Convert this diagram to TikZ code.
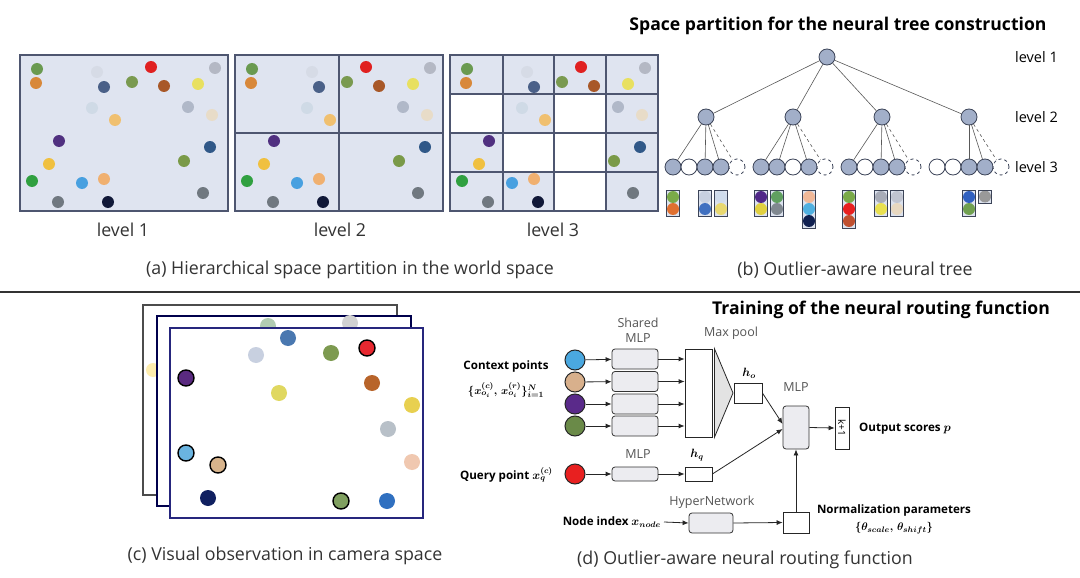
\documentclass[tikz,border=0pt]{standalone}
\usepackage{amsmath}
\usepackage{bm}
\usepackage{fontspec}
\setmainfont{Open Sans}
\setsansfont{Open Sans}
\usetikzlibrary{arrows.meta,calc}
\newcommand\myfs[1]{\fontsize{#1}{#1}\selectfont}
\definecolor{gridfill}{HTML}{DFE4F0}
\definecolor{gridline}{HTML}{4E5670}
\definecolor{treefill}{HTML}{A2AFC9}
\definecolor{treeline}{HTML}{3C4458}
\definecolor{mlpfill}{HTML}{ECECF0}
\definecolor{glab}{HTML}{555555}
\definecolor{capcol}{HTML}{333333}
\definecolor{leaffill}{HTML}{DCE2EE}
\tikzset{
  tn/.style={circle,minimum size=16,inner sep=0,draw=treeline,line width=0.8,fill=treefill},
  tw/.style={tn,fill=white},
  td/.style={tn,fill=white,dashed},
  tedge/.style={draw=black!65,line width=0.6},
  tdash/.style={tedge,dashed},
  captxt/.style={font=\myfs{17.8},text=capcol,inner sep=0},
  lvl/.style={font=\myfs{17.8},text=capcol,inner sep=0},
  tlvl/.style={font=\myfs{14.5},inner sep=0,anchor=west},
  ttl/.style={font=\bfseries\myfs{17.6},inner sep=0},
  cpt/.style={circle,minimum size=20,inner sep=0,draw=black!85,line width=1},
  mlpb/.style={rounded corners=3,draw=black!80,fill=mlpfill,minimum width=46,minimum height=20,inner sep=0,line width=0.8},
  sbox/.style={draw=black!85,fill=white,minimum width=28,minimum height=20,inner sep=0,line width=0.8},
  arr/.style={-{Latex[length=6,width=5]},line width=0.8,draw=black!85},
  glabel/.style={font=\fontsize{12.5}{15}\selectfont,text=glab,inner sep=0},
  blabel/.style={font=\bfseries\myfs{11.6},inner sep=0},
  frm/.style={draw=#1,fill=white,line width=1.6},
  gl/.style={draw=gridline,line width=1.8},
}
\begin{document}
\begin{tikzpicture}[x=1pt,y=-1pt]
\useasboundingbox (0,0) rectangle (1080,578);
\fill[white] (0,0) rectangle (1080,578);
% ---------------- panel (a)
\foreach \ox in {0,215,430}{
  \fill[gridfill] (20+\ox,55) rectangle (228+\ox,211);
}
\fill[white] (450,94) rectangle (503,133);
\fill[white] (554,94) rectangle (606,133);
\fill[white] (503,133) rectangle (606,172);
\fill[white] (554,172) rectangle (606,211);
\foreach \ox in {0,215,430}{
 \foreach \px/\py/\c in {37/69/6A9A50, 36/83/D8883A, 97/72/D6DBE6, 104/87/4A6088, 132/82/7A9A50,
   151/67/E02020, 164/86/A85828, 198/84/E8E060, 215/68/B4B8C4, 188/107/B0B8C8, 92/108/CFDAE6,
   212/115/E8DCC8, 115/120/F0C070, 59/141/503080, 210/147/305888, 184/161/7A9A48, 49/164/F0C040,
   32/181/30A040, 82/183/48A0E0, 104/179/F0B070, 203/193/707880, 58/202/707880, 108/202/101838}{
   \definecolor{tmpc}{HTML}{\c}
   \fill[tmpc] (\px+\ox,\py) circle (6);
 }
}
\draw[gl] (20,55) rectangle (228,211);
\draw[gl] (235,55) rectangle (443,211);
\draw[gl] (339,55) -- (339,211);
\draw[gl] (235,133) -- (443,133);
\draw[gl] (450,55) rectangle (658,211);
\foreach \vx in {503,554,606} \draw[gl] (\vx,55) -- (\vx,211);
\foreach \hy in {94,133,172} \draw[gl] (450,\hy) -- (658,\hy);
\node[lvl] (la1) at (123,230) {level 1};
\node[lvl] (la2) at (340,230) {level 2};
\node[lvl] (la3) at (553,230) {level 3};
\node[captxt] (capa) at (350,270) {(a) Hierarchical space partition in the world space};
% ---------------- panel (b)
\node[ttl] (t1) at (838,26) {Space partition for the neural tree construction};
\node[tn] (r) at (827,57) {};
\node[tn] (a1) at (706,117) {};
\node[tn] (a2) at (793,117) {};
\node[tn] (a3) at (882,117) {};
\node[tn] (a4) at (969,117) {};
\foreach \a in {a1,a2,a3,a4} \draw[tedge] (r) -- (\a);
% level 3
\node[tn] (g11) at (673,167) {};
\node[tw] (g12) at (689,167) {};
\node[tn] (g13) at (705,167) {};
\node[tn] (g14) at (721,167) {};
\node[td] (g15) at (737,167) {};
\node[tn] (g21) at (761,167) {};
\node[tn] (g22) at (777,167) {};
\node[tw] (g23) at (793,167) {};
\node[tn] (g24) at (809,167) {};
\node[td] (g25) at (825,167) {};
\node[tn] (g31) at (849,167) {};
\node[tw] (g32) at (865,167) {};
\node[tn] (g33) at (881,167) {};
\node[tn] (g34) at (897,167) {};
\node[td] (g35) at (913,167) {};
\node[tw] (g41) at (937,167) {};
\node[tw] (g42) at (953,167) {};
\node[tn] (g43) at (969,167) {};
\node[tn] (g44) at (985,167) {};
\node[td] (g45) at (1001,167) {};
\foreach \c in {g11,g13,g14} \draw[tedge] (a1) -- (\c);
\foreach \c in {g21,g22,g24} \draw[tedge] (a2) -- (\c);
\foreach \c in {g31,g33,g34} \draw[tedge] (a3) -- (\c);
\foreach \c in {g43,g44} \draw[tedge] (a4) -- (\c);
\draw[tdash] (a1) -- (g15);
\draw[tdash] (a2) -- (g25);
\draw[tdash] (a3) -- (g35);
\draw[tdash] (a4) -- (g45);
\node[tlvl] (l1) at (1015,57) {level 1};
\node[tlvl] (l2) at (1015,117) {level 2};
\node[tlvl] (l3) at (1015,167) {level 3};
% leaf boxes (two dots)
\foreach \lx/\ca/\cb in {673/7AAA48/E07030, 705/C8D0E0/4070C0, 721/D0DCEC/E8D870,
   761/502888/E0D040, 777/60A060/808890, 881/A8ACB8/E8E050, 897/C0C4D0/E8D8C0, 969/3060C0/70A050}{
  \fill[leaffill] (\lx-6.5,190) rectangle (\lx+6.5,216);
  \definecolor{tca}{HTML}{\ca}\definecolor{tcb}{HTML}{\cb}
  \fill[tca] (\lx,197) circle (6);
  \fill[tcb] (\lx,209) circle (6);
  \draw[treeline,line width=0.8] (\lx-6.5,190) rectangle (\lx+6.5,216);
}
% leaf boxes (three dots)
\foreach \lx/\ca/\cb/\cc in {809/F0B898/50B0E0/102050, 849/7AAA48/E82020/C05030}{
  \fill[leaffill] (\lx-6.5,190) rectangle (\lx+6.5,228);
  \definecolor{tca}{HTML}{\ca}\definecolor{tcb}{HTML}{\cb}\definecolor{tcc}{HTML}{\cc}
  \fill[tca] (\lx,197) circle (6);
  \fill[tcb] (\lx,209) circle (6);
  \fill[tcc] (\lx,221) circle (6);
  \draw[treeline,line width=0.8] (\lx-6.5,190) rectangle (\lx+6.5,228);
}
% single
\fill[leaffill] (978.5,190) rectangle (991.5,203);
\fill[gray!80] (985,196.5) circle (6);
\draw[treeline,line width=0.8] (978.5,190) rectangle (991.5,203);
\node[captxt] (capb) at (855,270) {(b) Outlier-aware neural tree};
% separator
\draw[line width=1.5,black!80] (0,292) -- (1080,292);
% ---------------- panel (c)
\draw[frm=black!70] (143,305) rectangle (397,495);
\fill[yellow!60!orange!30] (153,370) circle (7);
\draw[frm=black!70!blue] (157,316) rectangle (411,506);
\fill[green!20!gray!50] (268,326) circle (8);
\fill[gray!35] (350,323) circle (8);
\draw[frm=blue!40!black!85] (170,328) rectangle (423,518);
\foreach \px/\py/\c in {288/338/4A78B0, 256/355/C8D0E0, 331/353/7D9A50, 279/393/E0D860,
  372/383/B8642A, 412/405/E8D050, 388/429/B8C0C8, 412/462/F0C8B0, 208/498/102060, 387/501/3070C0}{
  \definecolor{tmpc}{HTML}{\c}
  \fill[tmpc] (\px,\py) circle (8);
}
\foreach \px/\py/\c in {367/348/E82830, 186/378/5A2A80, 186/453/6AB4E0, 218/465/D8B48C, 341/501/80A060}{
  \definecolor{tmpc}{HTML}{\c}
  \filldraw[fill=tmpc,draw=black,line width=1.4] (\px,\py) circle (8);
}
\node[captxt] (capc) at (285,556) {(c) Visual observation in camera space};
% ---------------- panel (d)
\node[ttl] (t2) at (881,310) {Training of the neural routing function};
\definecolor{cA}{HTML}{4AA8E0}
\definecolor{cB}{HTML}{D8B08C}
\definecolor{cC}{HTML}{5A2A8A}
\definecolor{cD}{HTML}{6A8A48}
\definecolor{cR}{HTML}{E82020}
\node[cpt,fill=cA] (ci1) at (575,360) {};
\node[cpt,fill=cB] (ci2) at (575,382) {};
\node[cpt,fill=cC] (ci3) at (575,404) {};
\node[cpt,fill=cD] (ci4) at (575,426) {};
\node[mlpb] (m1) at (635,359) {};
\node[mlpb] (m2) at (635,381.5) {};
\node[mlpb] (m3) at (635,404) {};
\node[mlpb] (m4) at (635,426) {};
\node[draw=black!85,fill=white,minimum width=27,minimum height=88,inner sep=0,line width=0.8] (mp) at (698.5,393) {};
\coordinate (tip) at (733,393);
\filldraw[fill=gray!22,draw=black!85,line width=0.8] ($(mp.north east)+(2,0)$) -- (tip) -- ($(mp.south east)+(2,0)$) -- cycle;
\foreach \k in {1,2,3,4}{
  \draw[arr] (ci\k) -- (m\k);
  \draw[arr] (m\k.east) -- (m\k.east -| mp.west);
}
\node[glabel,align=center] (shl) at (638,330) {Shared\\MLP};
\node[glabel] (mpl) at (731,333) {Max pool};
\node[sbox] (ho) at (748,393) {};
\node[inner sep=0,font=\myfs{12}] (holab) at (749,373) {$\bm{h}_{\bm{o}}$};
\node[mlpb,minimum width=26,minimum height=43] (mlp2) at (796,427.5) {};
\node[glabel] (mlp2lab) at (796,387) {MLP};
\node[draw=black!85,fill=white,minimum width=14,minimum height=42,inner sep=0,line width=0.8] (kb) at (842,428) {};
\node[rotate=-90,font=\myfs{10},inner sep=0] (kt) at (kb) {k+1};
\draw[arr] (mlp2.east) -- (kb.west);
\node[blabel,anchor=west] (outl) at (859,429) {Output scores $\bm{p}$};
\node[cpt,fill=cR] (q) at (575,474) {};
\node[mlpb,minimum height=14] (mq) at (635,474) {};
\node[sbox,minimum width=27,minimum height=14] (hq) at (698.5,474) {};
\draw[arr] (q) -- (mq);
\draw[arr] (mq) -- (hq);
\node[glabel] (mqlab) at (638,454) {MLP};
\node[inner sep=0,font=\myfs{12}] (hqlab) at (697,455) {$\bm{h}_{\bm{q}}$};
\draw[arr] (ho.east) -- ($(mlp2.west)+(0,-3.5)$);
\draw[arr] (hq.east) -- ($(mlp2.west)+(0,1.5)$);
\node[blabel] (ctxt) at (506,366) {Context points};
\node[inner sep=0,font=\myfs{11.2}] (ctxf) at (506,390) {$\bm{\{}\bm{x}_{\bm{o_i}}^{\bm{(c)}}\bm{,}\, \bm{x}_{\bm{o_i}}^{\bm{(r)}}\bm{\}}_{\bm{i=1}}^{\bm{N}}$};
\node[blabel,anchor=east] (qt) at (553,475) {Query point $\bm{x}_{\bm{q}}^{\bm{(c)}}$};
\node[blabel,anchor=east] (nidx) at (661,522) {Node index $\bm{x}_{\bm{node}}$};
\node[mlpb,minimum width=44] (hn) at (711,523) {};
\node[glabel] (hnlab) at (712,502) {HyperNetwork};
\node[sbox,minimum width=26,minimum height=21] (nb) at (796,522.5) {};
\draw[arr] ($(nidx.east)+(3,0)$) -- (hn.west);
\draw[arr] (hn.east) -- (nb.west);
\draw[arr] (nb.north) -- (mlp2.south);
\node[blabel] (normt) at (894,510) {Normalization parameters};
\node[inner sep=0,font=\myfs{11.2}] (normf) at (894,528) {$\bm{\{}\bm{\theta}_{\bm{scale}}\bm{,}\,\bm{\theta}_{\bm{shift}}\bm{\}}$};
\node[captxt] (capd) at (745,560) {(d) Outlier-aware neural routing function};
\end{tikzpicture}
\end{document}
